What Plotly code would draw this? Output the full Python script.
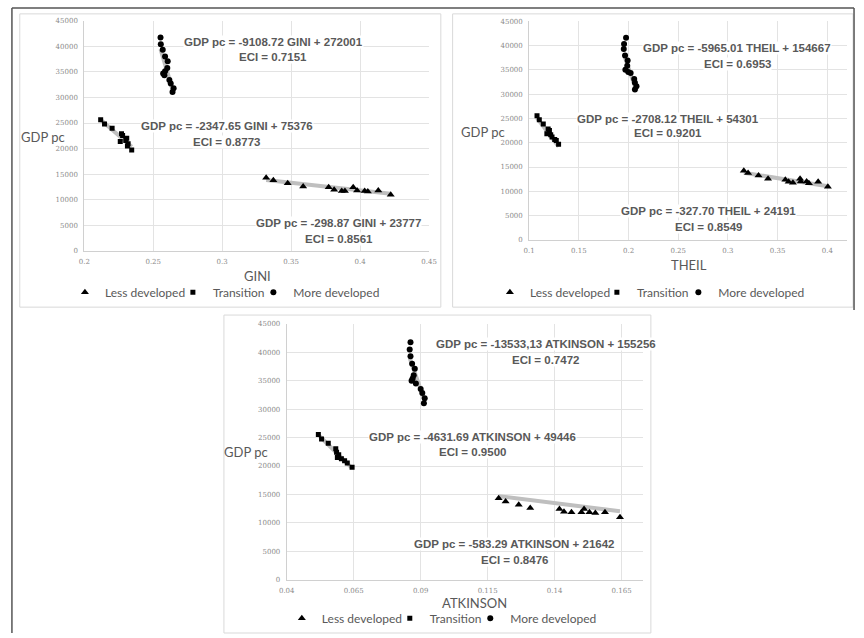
import plotly.graph_objects as go

# ---------------- data ----------------
groups = ["Less developed", "Transition", "More developed"]

# GINI panel
gini_less_x = [0.3319, 0.3371, 0.3475, 0.3587, 0.3772, 0.3812, 0.3867, 0.3890, 0.3950, 0.3978, 0.4033, 0.4056, 0.4132, 0.4222]
gini_less_y = [14310, 13800, 13220, 12570, 12440, 11930, 11730, 11730, 12440, 11800, 11730, 11600, 11800, 10960]
gini_trans_x = [0.2119, 0.2147, 0.2202, 0.2270, 0.2278, 0.2308, 0.2261, 0.2301, 0.2318, 0.2313, 0.2344]
gini_trans_y = [25660, 24820, 23980, 22890, 22570, 22050, 21400, 21600, 20950, 20500, 19730]
gini_more_x = [0.2553, 0.2555, 0.2569, 0.2586, 0.2605, 0.2602, 0.2586, 0.2572, 0.2581, 0.2617, 0.2627, 0.2648, 0.2640]
gini_more_y = [41715, 40425, 39330, 38040, 37070, 35780, 35140, 34690, 34370, 33400, 32750, 31790, 31080]

# THEIL panel
theil_less_x = [0.3160, 0.3203, 0.3308, 0.3404, 0.3578, 0.3611, 0.3654, 0.3726, 0.3733, 0.3792, 0.3815, 0.3908, 0.4006]
theil_less_y = [14260, 13780, 13240, 12570, 12360, 11960, 11760, 12570, 12030, 12030, 11690, 11960, 10950]
theil_trans_x = [0.1079, 0.1102, 0.1142, 0.1191, 0.1204, 0.1178, 0.1217, 0.1230, 0.1257, 0.1273, 0.1296]
theil_trans_y = [25540, 24730, 23850, 22840, 22500, 21820, 21620, 21150, 20680, 20470, 19660]
theil_more_x = [0.1975, 0.1955, 0.1952, 0.1965, 0.1991, 0.1987, 0.1968, 0.1997, 0.2021, 0.2057, 0.2064, 0.2080, 0.2064]
theil_more_y = [41550, 40270, 39260, 37900, 36890, 35810, 35000, 34530, 34320, 33110, 32300, 31620, 30950]

# ATKINSON panel
atk_less_x = [0.1191, 0.1217, 0.1266, 0.1309, 0.1418, 0.1435, 0.1463, 0.1500, 0.1510, 0.1530, 0.1552, 0.1588, 0.1644]
atk_less_y = [14340, 13770, 13190, 12610, 12430, 11970, 11860, 11860, 12430, 11860, 11740, 11860, 10990]
atk_trans_x = [0.0518, 0.0530, 0.0555, 0.0583, 0.0586, 0.0594, 0.0589, 0.0604, 0.0616, 0.0626, 0.0644]
atk_trans_y = [25560, 24750, 24000, 23020, 22440, 21980, 21520, 21280, 20940, 20530, 19780]
atk_more_x = [0.0862, 0.0859, 0.0862, 0.0868, 0.0878, 0.0874, 0.0866, 0.0870, 0.0882, 0.0900, 0.0906, 0.0915, 0.0912]
atk_more_y = [41760, 40490, 39330, 38000, 37130, 35970, 34990, 35400, 34530, 33550, 32850, 31930, 31060]

# trendline coefficients as printed (index in percent)
gini_slopes = [-298.87, -2347.65, -9108.72]
gini_intercepts = [23777, 75376, 272001]
theil_slopes = [-327.70, -2708.12, -5965.01]
theil_intercepts = [24191, 54301, 154667]
atk_slopes = [-583.29, -4631.69, -13533.13]
atk_intercepts = [21642, 49446, 155256]

gini_eq = ["GDP pc = -298.87 GINI + 23777", "GDP pc = -2347.65 GINI + 75376", "GDP pc = -9108.72 GINI + 272001"]
gini_eci = ["ECI = 0.8561", "ECI = 0.8773", "ECI = 0.7151"]
theil_eq = ["GDP pc = -327.70 THEIL + 24191", "GDP pc = -2708.12 THEIL + 54301", "GDP pc = -5965.01 THEIL + 154667"]
theil_eci = ["ECI = 0.8549", "ECI = 0.9201", "ECI = 0.6953"]
atk_eq = ["GDP pc = -583.29 ATKINSON + 21642", "GDP pc = -4631.69 ATKINSON + 49446", "GDP pc = -13533,13 ATKINSON + 155256"]
atk_eci = ["ECI = 0.8476", "ECI = 0.9500", "ECI = 0.7472"]

gini_ticks = [0.2, 0.25, 0.3, 0.35, 0.4, 0.45]
gini_ticktext = ["0.2", "0.25", "0.3", "0.35", "0.4", "0.45"]
theil_ticks = [0.1, 0.15, 0.2, 0.25, 0.3, 0.35, 0.4]
theil_ticktext = ["0.1", "0.15", "0.2", "0.25", "0.3", "0.35", "0.4"]
atk_ticks = [0.04, 0.065, 0.09, 0.115, 0.14, 0.165]
atk_ticktext = ["0.04", "0.065", "0.09", "0.115", "0.14", "0.165"]
y_ticks = [0, 5000, 10000, 15000, 20000, 25000, 30000, 35000, 40000, 45000]

# ---------------- layout helpers ----------------
W, H = 864, 638
def px(x): return x / W
def py(y): return 1 - y / H

GRAY = "#595959"
FONT = "Liberation Sans, Arial, sans-serif"
symbols = ["triangle-up", "square", "circle"]
sizes = [7, 5, 6]

fig = go.Figure()

# legend entry text starts (px) and legend row y (px) per panel
legend_text_x = [[101, 211, 293], [534, 643, 726], [322, 432, 514]]
legend_row_y = [292, 292, 622]

panels = [
    dict(xs=[gini_less_x, gini_trans_x, gini_more_x], ys=[gini_less_y, gini_trans_y, gini_more_y],
         slopes=gini_slopes, ints=gini_intercepts, xa="x", ya="y"),
    dict(xs=[theil_less_x, theil_trans_x, theil_more_x], ys=[theil_less_y, theil_trans_y, theil_more_y],
         slopes=theil_slopes, ints=theil_intercepts, xa="x2", ya="y2"),
    dict(xs=[atk_less_x, atk_trans_x, atk_more_x], ys=[atk_less_y, atk_trans_y, atk_more_y],
         slopes=atk_slopes, ints=atk_intercepts, xa="x3", ya="y3"),
]

leg_layout = {}
for k, p in enumerate(panels):
    for i in range(3):
        xmin, xmax = min(p["xs"][i]), max(p["xs"][i])
        fig.add_trace(go.Scatter(
            x=[xmin, xmax],
            y=[p["slopes"][i] * 100 * xmin + p["ints"][i], p["slopes"][i] * 100 * xmax + p["ints"][i]],
            mode="lines", line=dict(color="#bfbfbf", width=4),
            xaxis=p["xa"], yaxis=p["ya"], showlegend=False, hoverinfo="skip"))
    for i in range(3):
        n = k * 3 + i + 1
        lname = "legend" if n == 1 else "legend%d" % n
        fig.add_trace(go.Scatter(
            x=p["xs"][i], y=p["ys"][i], mode="markers", name=groups[i],
            marker=dict(symbol=symbols[i], size=sizes[i], color="black"),
            xaxis=p["xa"], yaxis=p["ya"], legend=lname, showlegend=True))
        leg_layout[lname] = dict(x=px(legend_text_x[k][i] - 43), y=py(legend_row_y[k]),
                                 xanchor="left", yanchor="middle", xref="paper", yref="paper",
                                 orientation="h", itemwidth=30,
                                 font=dict(size=12, color=GRAY, family="Lato"),
                                 bgcolor="rgba(0,0,0,0)")

axis_common = dict(showgrid=True, gridcolor="#e3e3e3", gridwidth=1, zeroline=False,
                   showline=True, linecolor="#d0d0d0", linewidth=1,
                   ticks="outside", ticklen=4, tickcolor="rgba(0,0,0,0)",
                   tickfont=dict(size=7, color="#8a8a8a", family="DejaVu Serif"))

fig.update_layout(
    width=W, height=H, margin=dict(l=0, r=0, t=0, b=0),
    paper_bgcolor="white", plot_bgcolor="white",
    font=dict(family=FONT, color=GRAY),
    xaxis=dict(domain=[px(77.7), px(429)], range=[0.2, 0.45], tickvals=gini_ticks, ticktext=gini_ticktext, anchor="y", **axis_common),
    yaxis=dict(domain=[py(250), py(17)], range=[0, 45000], tickvals=y_ticks, tickformat="d", anchor="x", **axis_common),
    xaxis2=dict(domain=[px(531), px(855)], range=[0.1, 0.42], tickvals=theil_ticks, ticktext=theil_ticktext, anchor="y2", **axis_common),
    yaxis2=dict(domain=[py(239), py(17.3)], range=[0, 45000], tickvals=y_ticks, tickformat="d", anchor="x2", **axis_common),
    xaxis3=dict(domain=[px(284), px(647)], range=[0.04, 0.173], tickvals=atk_ticks, ticktext=atk_ticktext, anchor="y3", **axis_common),
    yaxis3=dict(domain=[py(583), py(324)], range=[0, 45000], tickvals=y_ticks, tickformat="d", anchor="x3", **axis_common),
    **leg_layout
)

# equation annotations (centers in pixels)
eq_pos = [
    (gini_eq, gini_eci, [(337, 222, 238), (223, 124, 140), (270, 38, 54)]),
    (theil_eq, theil_eci, [(714, 210, 226), (672, 116, 131), (743, 45, 61)]),
    (atk_eq, atk_eci, [(516, 547, 563), (473, 438, 454), (548, 344, 361)]),
]
annotations = []
for eqs, ecis, poss in eq_pos:
    for e, c, (cx, cy1, cy2) in zip(eqs, ecis, poss):
        for t, cy in ((e, cy1), (c, cy2)):
            annotations.append(dict(x=px(cx), y=py(cy), xref="paper", yref="paper", text="<b>" + t + "</b>",
                                    showarrow=False, xanchor="center", yanchor="middle", align="center",
                                    font=dict(size=11.5, color=GRAY, family=FONT), bgcolor="white", borderpad=0))

# axis titles
for txt, cx, cy in [("GINI", 254, 275), ("THEIL", 694, 264), ("ATKINSON", 475, 607),
                    ("GDP pc", 36, 135), ("GDP pc", 484, 130), ("GDP pc", 242, 454)]:
    annotations.append(dict(x=px(cx), y=py(cy), xref="paper", yref="paper", text=txt, showarrow=False,
                            xanchor="center", yanchor="middle", font=dict(size=13, color=GRAY, family="Lato")))
fig.update_layout(annotations=annotations)

# panel borders and outer frame
shapes = []
for x0, y0, x1, y1 in [(12, 10, 441, 307), (453, 10, 861, 307), (220, 315, 655, 637)]:
    shapes.append(dict(type="rect", xref="paper", yref="paper", x0=px(x0), x1=px(x1), y0=py(y1), y1=py(y0),
                       line=dict(color="#d9d9d9", width=1)))
for x0, y0, x1, y1 in [(4, 4, 862, 4), (4, 4, 4, 637), (862, 4, 862, 310)]:
    shapes.append(dict(type="line", xref="paper", yref="paper", x0=px(x0), x1=px(x1), y0=py(y0), y1=py(y1),
                       line=dict(color="#555555", width=1.5)))
fig.update_layout(shapes=shapes)

fig.write_html("out.html", config={"displayModeBar": False},
               post_script="document.body.style.margin='0';document.body.style.overflow='hidden';")
